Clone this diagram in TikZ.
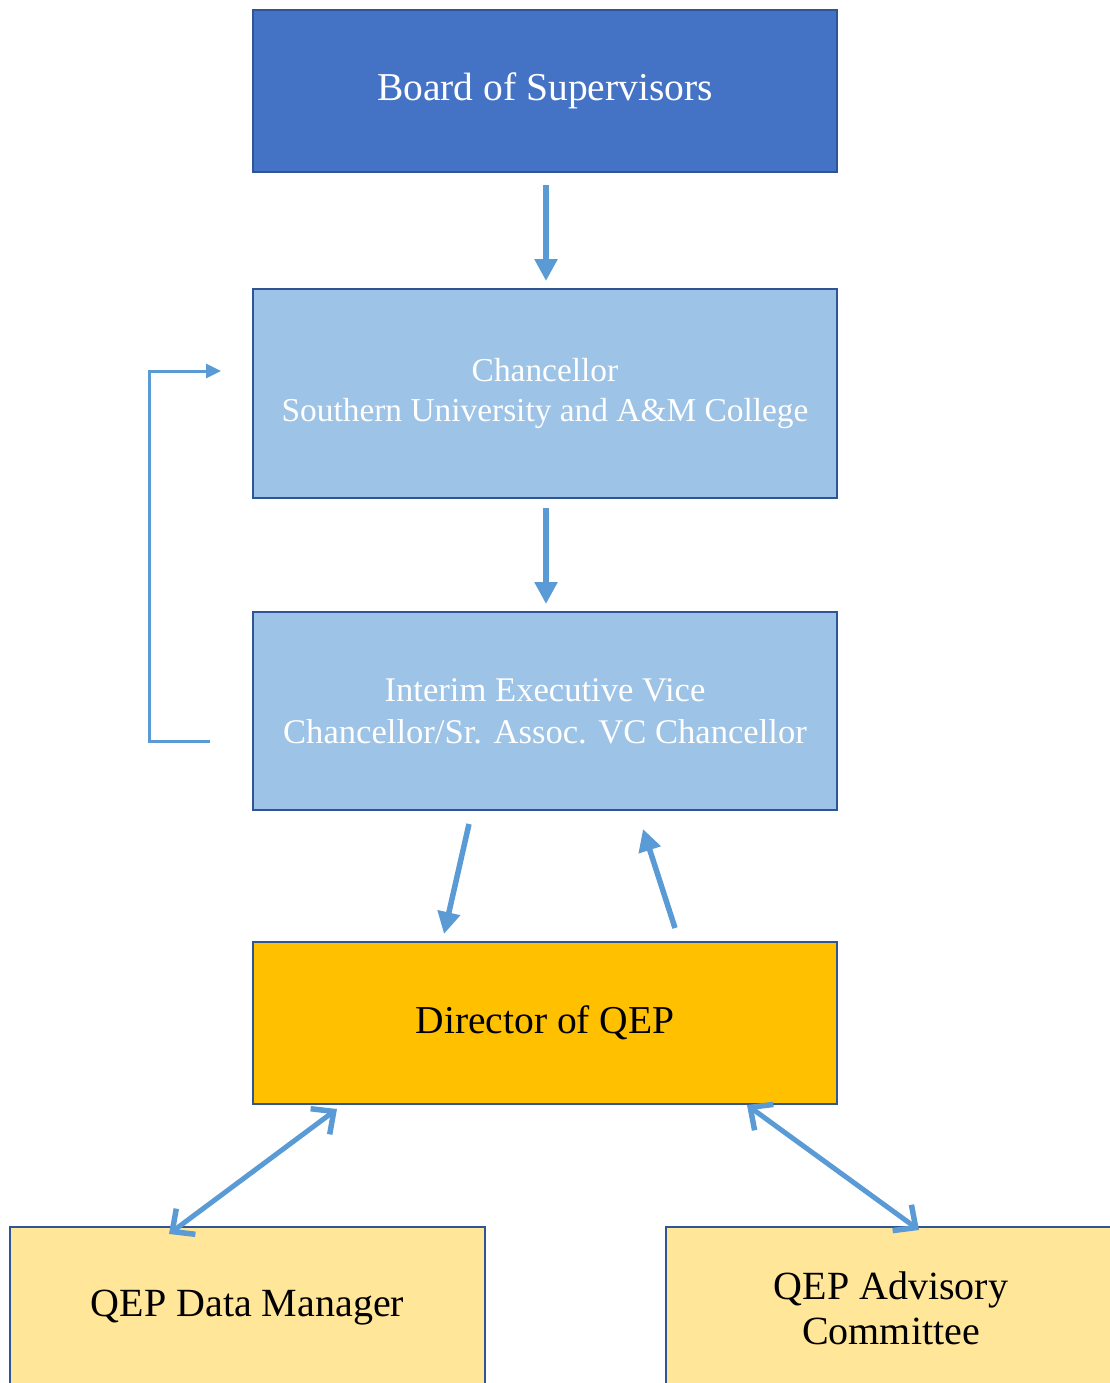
\documentclass[tikz,border=0pt]{standalone}
\usepackage{fontspec}
\setmainfont{Liberation Serif}
\usetikzlibrary{arrows.meta}
\definecolor{boardblue}{HTML}{4472C4}
\definecolor{lightblue}{HTML}{9DC3E6}
\definecolor{qeporange}{HTML}{FFC000}
\definecolor{qepyellow}{HTML}{FFE699}
\definecolor{edgeblue}{HTML}{2F5597}
\definecolor{arrowblue}{HTML}{5B9BD5}
\tikzset{
  orgbox/.style={draw=edgeblue, line width=2.5pt, align=center, inner sep=0pt},
  bluebox/.style={orgbox, minimum width=584pt, text=white},
  flowarrow/.style={draw=arrowblue, line width=5.5pt, -{Triangle[length=22pt,width=22pt]}},
  feedback/.style={draw=arrowblue, line width=3pt, -{Triangle[length=15pt,width=14pt]}},
  twoway/.style={draw=arrowblue, line width=5pt, {Straight Barb[length=17pt,width=32pt,line width=5.5pt]}-{Straight Barb[length=17pt,width=32pt,line width=5.5pt]}}
}
\begin{document}
\begin{tikzpicture}[x=1pt,y=-1pt]
\useasboundingbox (0,0) rectangle (1110,1383);
\clip (0,0) rectangle (1110,1383);
\node[bluebox, fill=boardblue, minimum height=162pt, font=\fontsize{39.5}{46}\selectfont] (board) at (545,91) {\raisebox{-4pt}{Board of Supervisors}};
\node[bluebox, fill=lightblue, minimum height=209pt, font=\fontsize{33.4}{40}\selectfont] (chanc) at (545,393.5) {Chancellor\\Southern University and A\&M College};
\node[bluebox, fill=lightblue, minimum height=198pt, font=\fontsize{34.6}{42}\selectfont] (interim) at (545,711) {Interim Executive Vice\\Chancellor/Sr. Assoc. VC Chancellor};
\node[orgbox, fill=qeporange, minimum width=584pt, minimum height=162pt, font=\fontsize{39.5}{46}\selectfont] (director) at (545,1023) {Director of QEP};
\node[orgbox, fill=qepyellow, minimum width=475pt, minimum height=162pt, font=\fontsize{40}{46}\selectfont] (datamgr) at (247.5,1308) {\raisebox{-4pt}{QEP Data Manager}};
\node[orgbox, fill=qepyellow, minimum width=450pt, minimum height=162pt, font=\fontsize{40}{45}\selectfont] (advisory) at (891,1308) {QEP Advisory\\Committee};
% connector end points
\coordinate (a1s) at (546,185);
\coordinate (a1e) at (546,281);
\coordinate (a2s) at (546,508);
\coordinate (a2e) at (546,604);
\coordinate (fbs) at (210,741);
\coordinate (fbe) at (221,371);
\coordinate (d1s) at (469,824);
\coordinate (d1e) at (444,934);
\coordinate (u1s) at (675,928);
\coordinate (u1e) at (643,829);
\coordinate (l1s) at (337,1109);
\coordinate (l1e) at (169,1234);
\coordinate (r1s) at (747,1105);
\coordinate (r1e) at (919,1230);
\draw[flowarrow] (a1s) -- (a1e);
\draw[flowarrow] (a2s) -- (a2e);
\draw[feedback] (fbs) -- (149,741) -- (149,371) -- (fbe);
\draw[flowarrow] (d1s) -- (d1e);
\draw[flowarrow] (u1s) -- (u1e);
\draw[twoway] (l1s) -- (l1e);
\draw[twoway] (r1s) -- (r1e);
\end{tikzpicture}
\end{document}
